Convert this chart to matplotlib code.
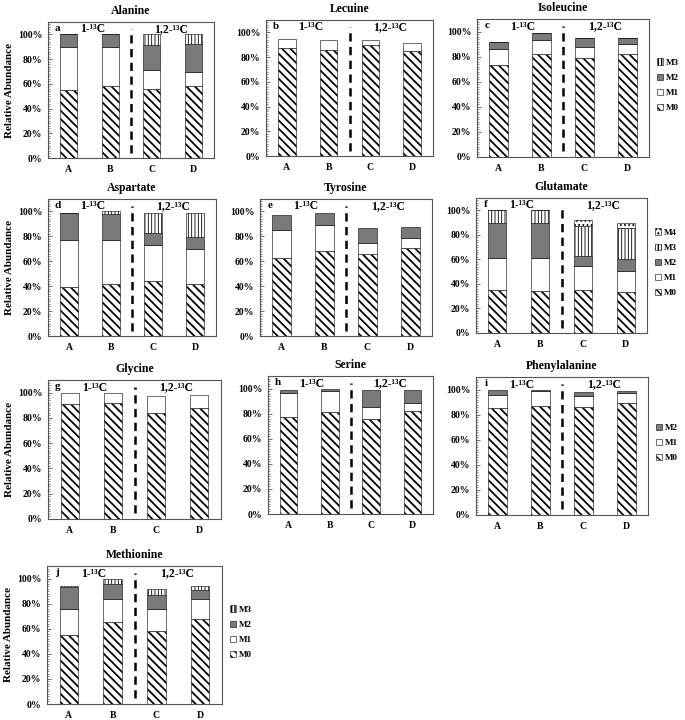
import numpy as np
import matplotlib
matplotlib.use('Agg')
import matplotlib.pyplot as plt
from matplotlib.patches import Patch
from matplotlib.ticker import MultipleLocator, PercentFormatter

plt.rcParams['font.family'] = ['Liberation Serif', 'DejaVu Serif']
plt.rcParams['font.weight'] = 'bold'
plt.rcParams['axes.labelweight'] = 'bold'
plt.rcParams['axes.titleweight'] = 'bold'

samples = ['A', 'B', 'C', 'D']

# fractions per isotopologue, rows M0, M1, M2, M3, M4 ; columns A..D
alanine = [[0.55, 0.58, 0.56, 0.58], [0.35, 0.32, 0.15, 0.115],
           [0.10, 0.10, 0.20, 0.225], [0, 0, 0.09, 0.08]]
lecuine = [[0.875, 0.86, 0.90, 0.85], [0.07, 0.075, 0.04, 0.065]]
isoleucine = [[0.73, 0.82, 0.79, 0.82], [0.13, 0.11, 0.085, 0.08],
              [0.055, 0.06, 0.075, 0.05], [0, 0, 0, 0]]
aspartate = [[0.39, 0.42, 0.44, 0.42], [0.38, 0.35, 0.29, 0.275],
             [0.22, 0.21, 0.10, 0.10], [0, 0.02, 0.16, 0.195]]
tyrosine = [[0.63, 0.68, 0.66, 0.705], [0.22, 0.215, 0.09, 0.08],
            [0.12, 0.09, 0.115, 0.09]]
glutamate = [[0.35, 0.34, 0.35, 0.335], [0.265, 0.27, 0.20, 0.17],
             [0.28, 0.29, 0.075, 0.10], [0.105, 0.10, 0.245, 0.25],
             [0, 0, 0.047, 0.045]]
glycine = [[0.91, 0.915, 0.835, 0.875], [0.085, 0.08, 0.14, 0.11]]
serine = [[0.77, 0.81, 0.76, 0.82], [0.195, 0.17, 0.095, 0.065],
          [0.02, 0.015, 0.13, 0.10]]
phenylalanine = [[0.85, 0.87, 0.86, 0.89], [0.11, 0.115, 0.09, 0.085],
                 [0.035, 0.013, 0.03, 0.015]]
methionine = [[0.55, 0.65, 0.58, 0.68], [0.21, 0.185, 0.18, 0.155],
              [0.17, 0.125, 0.105, 0.075], [0.01, 0.04, 0.055, 0.03]]

iso_names = ['M0', 'M1', 'M2', 'M3', 'M4']
iso_face = ['white', 'white', '#7a7a7a', 'white', 'white']
iso_hatch = ['\\\\\\\\', None, None, '|||||', '....']
iso_hlw = [1.25, 0.8, 0.8, 0.6, 0.8]

W, H = 685, 720
fig = plt.figure(figsize=(W / 100, H / 100), dpi=100)


def add_ax(l, t, r, b):
    return fig.add_axes([l / W, 1 - b / H, (r - l) / W, (b - t) / H])


def panel(rect, title, letter, data, ylabel=False, legend=None):
    ax = add_ax(*rect)
    x = np.arange(len(samples))
    bottom = np.zeros(len(samples))
    for k, vals in enumerate(data):
        vals = np.array(vals)
        with plt.rc_context({'hatch.linewidth': iso_hlw[k]}):
            ax.bar(x, vals, 0.42, bottom=bottom, facecolor=iso_face[k],
                   edgecolor='black', linewidth=0.4, hatch=iso_hatch[k])
        bottom += vals
    ax.set_xlim(-0.5, 3.5)
    ax.set_ylim(0, 1.10)
    ax.yaxis.set_major_locator(MultipleLocator(0.2))
    ax.yaxis.set_minor_locator(MultipleLocator(0.02))
    ax.yaxis.set_major_formatter(PercentFormatter(1.0, decimals=0))
    ax.tick_params(axis='y', which='major', direction='in', length=3,
                   width=0.6, labelsize=7, pad=4, color='#555555')
    ax.tick_params(axis='y', which='minor', direction='in', length=1.5,
                   width=0.5, color='#555555')
    ax.set_xticks(x)
    ax.set_xticklabels(samples)
    ax.tick_params(axis='x', length=0, labelsize=7, pad=5)
    for s in ax.spines.values():
        s.set_color('#555555')
        s.set_linewidth(0.8)
    ax.axvline(1.5, ymin=0.04, ymax=0.95, color='black', lw=1.8,
               dashes=(3.3, 2.2))
    ax.set_title(title, fontsize=8.5, fontweight='bold', pad=6)
    ax.text(-0.27, 1.045, letter, fontsize=8, ha='center', va='center')
    ax.text(0.57, 1.04, '1-¹³C', fontsize=8.5, ha='center', va='center')
    ax.text(2.47, 1.04, '1,2-¹³C', fontsize=8.5, ha='center', va='center')
    if ylabel:
        ax.set_ylabel('Relative Abundance', fontsize=8, fontweight='bold',
                      labelpad=3)
    if legend:
        handles = []
        for k in range(legend):
            with plt.rc_context({'hatch.linewidth': iso_hlw[k]}):
                handles.append(Patch(facecolor=iso_face[k], edgecolor='black',
                                     linewidth=0.4, hatch=iso_hatch[k],
                                     label=iso_names[k]))
        ax.legend(handles=handles[::-1], loc='center left',
                  bbox_to_anchor=(1.02, 0.52), frameon=False, fontsize=6.5,
                  handlelength=0.7, handleheight=0.7, handletextpad=0.3,
                  labelspacing=0.75, borderpad=0)
    return ax


panel((48, 22, 214, 158), 'Alanine', 'a', alanine, ylabel=True)
panel((266, 20, 433, 156), 'Lecuine', 'b', lecuine)
panel((477, 19, 649, 157), 'Isoleucine', 'c', isoleucine, legend=4)
panel((48, 199, 216, 336), 'Aspartate', 'd', aspartate, ylabel=True)
panel((260, 199, 432, 336), 'Tyrosine', 'e', tyrosine)
panel((476, 198, 647, 333), 'Glutamate', 'f', glutamate, legend=5)
panel((48, 380, 221, 519), 'Glycine', 'g', glycine, ylabel=True)
panel((268, 376, 433, 514), 'Serine', 'h', serine)
panel((476, 377, 648, 515), 'Phenylalanine', 'i', phenylalanine, legend=3)
panel((47, 566, 222, 704), 'Methionine', 'j', methionine, ylabel=True,
      legend=4)

fig.savefig('out.png', dpi=100)
